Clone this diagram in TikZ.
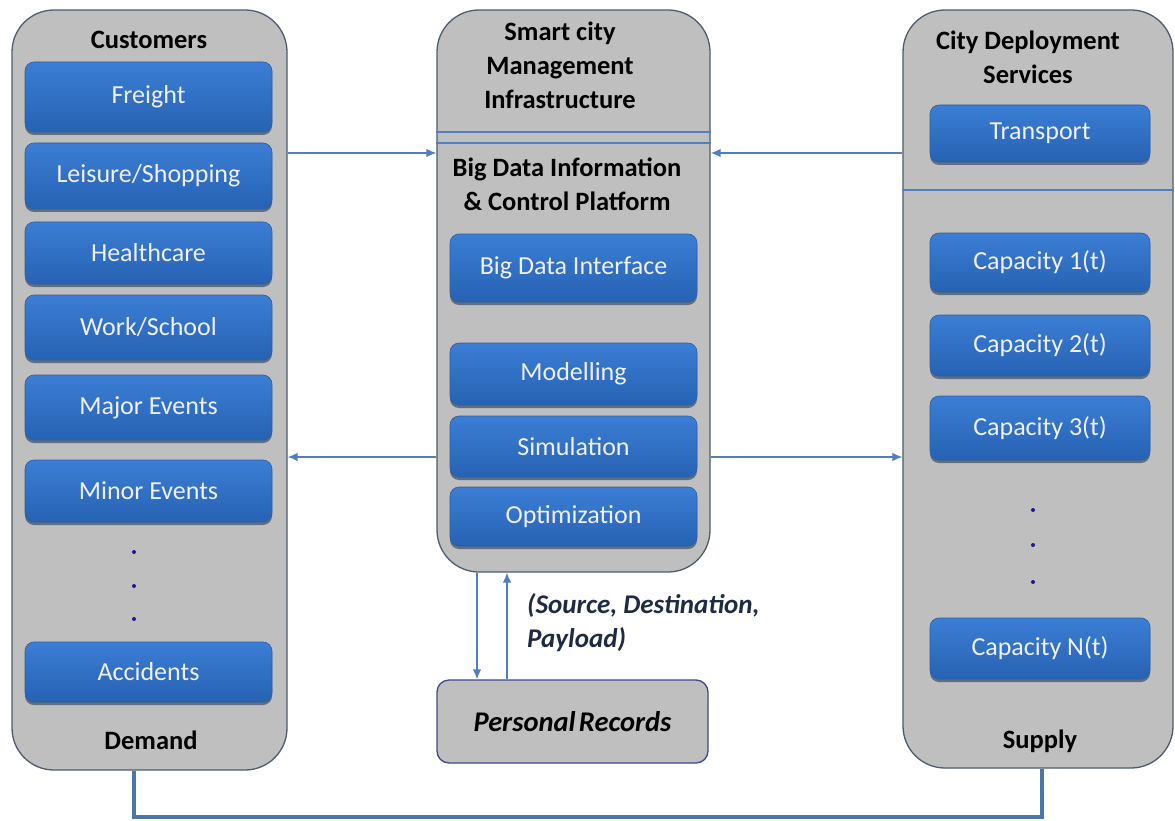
\documentclass[tikz,border=0pt]{standalone}
\usepackage{fontspec}
\setmainfont{Carlito}
\usetikzlibrary{shadows,arrows.meta}
\definecolor{colgray}{HTML}{BFBFBF}
\definecolor{colborder}{HTML}{4E5D6E}
\definecolor{boxtop}{HTML}{3B7ED5}
\definecolor{boxbot}{HTML}{2762B3}
\definecolor{boxline}{HTML}{2E5E9E}
\definecolor{boxshadow}{HTML}{5F6E80}
\definecolor{arrcol}{HTML}{4F7FC0}
\definecolor{linkcol}{HTML}{4A76AA}
\definecolor{labcol}{HTML}{1F2B45}
\definecolor{dotcol}{HTML}{1A1A9A}
\begin{document}
\begin{tikzpicture}[x=1pt,y=-1pt,
  column/.style={draw=colborder, line width=1.3pt, fill=colgray, rounded corners=42pt, inner sep=0pt},
  bluebox/.style={rounded corners=9pt, top color=boxtop, bottom color=boxbot, draw=boxline, line width=0.6pt,
    inner sep=0pt, text=white!94!blue, font=\fontsize{26}{30}\selectfont,
    drop shadow={shadow xshift=0pt, shadow yshift=-3pt, fill=boxshadow, opacity=1}},
  title/.style={font=\fontsize{26.5}{34}\selectfont\bfseries, align=center, text=black},
  arr/.style={draw=arrcol, line width=1.4pt, -{Latex[length=10pt,width=8.5pt]}},
  sepline/.style={draw=arrcol, line width=1.1pt},
  dotmark/.style={circle, fill=dotcol, inner sep=0pt, minimum size=4pt},
]
\useasboundingbox (0,0) rectangle (1175,821);
\fill[white] (0,0) rectangle (1175,821);

% columns
\node[column, minimum width=275pt, minimum height=760pt] (left) at (149.5,390) {};
\node[column, minimum width=273pt, minimum height=562pt] (mid) at (573.5,291) {};
\node[column, minimum width=270pt, minimum height=758pt] (right) at (1038,389) {};

% separator lines
\coordinate (s1) at (0,132);
\coordinate (s2) at (0,143);
\coordinate (s3) at (0,190);
\draw[sepline] (mid.west |- s1) -- (mid.east |- s1);
\draw[sepline] (mid.west |- s2) -- (mid.east |- s2);
\draw[sepline] (right.west |- s3) -- (right.east |- s3);

% titles
\node[title] (tcust) at (149,40) {Customers};
\node[title] (tdem) at (151,740) {Demand};
\node[title] (tsmart) at (560,65) {Smart city\\Management\\Infrastructure};
\node[title] (tbig) at (567,184) {Big Data Information\\\& Control Platform};
\node[title] (tcity) at (1028,57) {City Deployment\\Services};
\node[title] (tsup) at (1040,741) {Supply};

% left boxes
\node[bluebox, minimum width=247pt, minimum height=70pt] (freight) at (148.5,97) {Freight};
\node[bluebox, minimum width=247pt, minimum height=66pt] (leisure) at (148.5,176) {Leisure/Shopping};
\node[bluebox, minimum width=247pt, minimum height=62pt] (health) at (148.5,253) {Healthcare};
\node[bluebox, minimum width=247pt, minimum height=65pt] (work) at (148.5,327.5) {Work/School};
\node[bluebox, minimum width=247pt, minimum height=65pt] (major) at (148.5,407.5) {Major Events};
\node[bluebox, minimum width=247pt, minimum height=62pt] (minor) at (148.5,491) {Minor Events};
\node[bluebox, minimum width=247pt, minimum height=60pt] (acc) at (148.5,672) {Accidents};
\node[dotmark] (ld1) at (134,552) {};
\node[dotmark] (ld2) at (134,586) {};
\node[dotmark] (ld3) at (134,619) {};

% middle boxes
\node[bluebox, minimum width=247pt, minimum height=68pt] (bdi) at (573.5,268) {Big Data Interface};
\node[bluebox, minimum width=247pt, minimum height=62pt] (model) at (573.5,374) {Modelling};
\node[bluebox, minimum width=247pt, minimum height=61pt] (sim) at (573.5,446.5) {Simulation};
\node[bluebox, minimum width=247pt, minimum height=59pt] (opt) at (573.5,516.5) {Optimization};

% right boxes
\node[bluebox, minimum width=220pt, minimum height=57pt] (trans) at (1040,133.5) {Transport};
\node[bluebox, minimum width=220pt, minimum height=59pt] (cap1) at (1040,262.5) {Capacity 1(t)};
\node[bluebox, minimum width=220pt, minimum height=61pt] (cap2) at (1040,345.5) {Capacity 2(t)};
\node[bluebox, minimum width=220pt, minimum height=64pt] (cap3) at (1040,428) {Capacity 3(t)};
\node[bluebox, minimum width=220pt, minimum height=61pt] (capn) at (1040,648.5) {Capacity N(t)};
\node[dotmark] (rd1) at (1033,510) {};
\node[dotmark] (rd2) at (1033,545) {};
\node[dotmark] (rd3) at (1033,582) {};

% personal records
\node[draw=colborder!80!blue, line width=1.3pt, fill=colgray, rounded corners=12pt,
  minimum width=271pt, minimum height=83pt, inner sep=0pt,
  font=\fontsize{28.5}{32}\selectfont\bfseries\itshape] (rec) at (572.5,721.5) {Personal\hspace{0.12em}Records};

% label
\node[anchor=north west, align=left, text=labcol, inner sep=0pt,
  font=\fontsize{27}{34}\selectfont\bfseries\itshape] (lab) at (527,593) {(Source, Destination,\\Payload)};

% arrows
\coordinate (ra) at (0,153);
\coordinate (rb) at (0,457);
\draw[arr] (left.east |- ra) -- (mid.west |- ra);
\draw[arr] (right.west |- ra) -- (mid.east |- ra);
\draw[arr] (mid.west |- rb) -- (left.east |- rb);
\draw[arr] (mid.east |- rb) -- (right.west |- rb);

\coordinate (ca) at (477,0);
\coordinate (cb) at (507,0);
\draw[arr] (mid.south -| ca) -- (rec.north -| ca);
\draw[arr] (rec.north -| cb) -- (mid.south -| cb);

% feedback link
\coordinate (d1) at (134,817);
\coordinate (d2) at (1042,817);
\draw[draw=linkcol, line width=3.5pt] (left.south -| d1) -- (d1) -- (d2) -- (right.south -| d2);
\end{tikzpicture}
\end{document}
